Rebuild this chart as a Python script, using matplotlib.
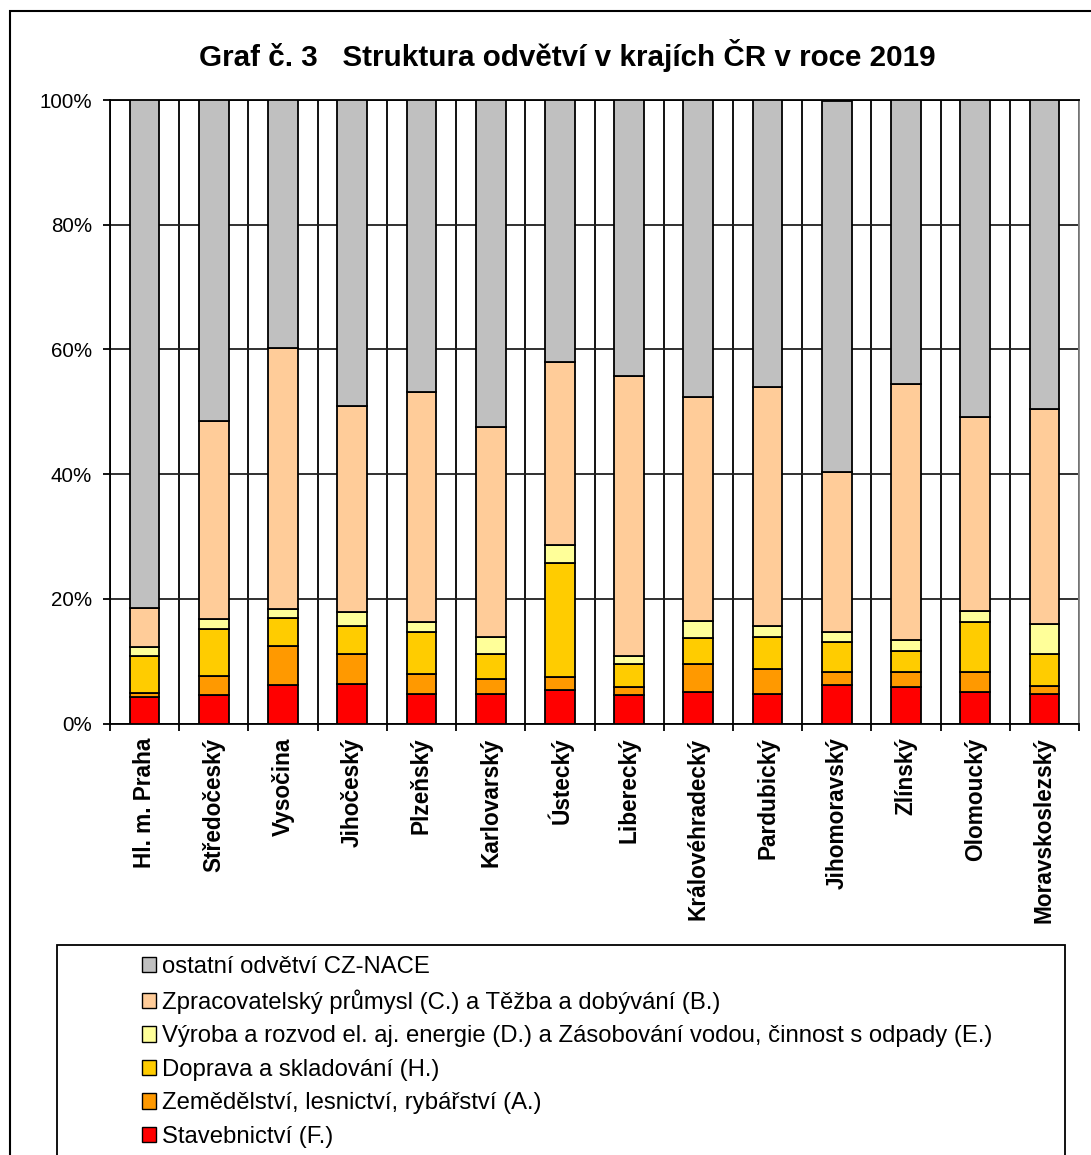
import numpy as np
import matplotlib.pyplot as plt
from matplotlib.patches import Patch, Rectangle

plt.switch_backend("Agg")
plt.rcParams["font.family"] = ["Liberation Sans", "DejaVu Sans"]

regions = [
    "Hl. m. Praha", "Středočeský", "Vysočina", "Jihočeský", "Plzeňský",
    "Karlovarský", "Ústecký", "Liberecký", "Královéhradecký", "Pardubický",
    "Jihomoravský", "Zlínský", "Olomoucký", "Moravskoslezský",
]

# shares in % (bottom -> top)
stavebnictvi = [4.3, 4.5, 6.1, 6.4, 4.8, 4.8, 5.3, 4.5, 5.1, 4.8, 6.1, 5.8, 5.1, 4.8]
zemedelstvi = [0.6, 3.1, 6.4, 4.8, 3.1, 2.3, 2.1, 1.3, 4.4, 3.9, 2.2, 2.5, 3.2, 1.2]
doprava = [6.0, 7.5, 4.4, 4.4, 6.8, 4.1, 18.3, 3.8, 4.2, 5.1, 4.8, 3.3, 8.0, 5.1]
energie = [1.3, 1.6, 1.4, 2.3, 1.6, 2.6, 2.9, 1.3, 2.7, 1.9, 1.5, 1.8, 1.7, 4.9]
zpracovatelsky = [6.4, 31.8, 42.0, 33.1, 36.9, 33.8, 29.4, 44.9, 35.9, 38.2, 25.8, 41.1, 31.1, 34.4]
ostatni = [81.4, 51.5, 39.7, 49.0, 46.8, 52.4, 42.0, 44.2, 47.7, 46.1, 59.5, 45.5, 50.9, 49.6]

series = [
    ("Stavebnictví (F.)", stavebnictvi, "#FF0000"),
    ("Zemědělství, lesnictví, rybářství (A.)", zemedelstvi, "#FF9900"),
    ("Doprava a skladování (H.)", doprava, "#FFCC00"),
    ("Výroba a rozvod el. aj. energie (D.) a Zásobování vodou, činnost s odpady (E.)", energie, "#FFFF99"),
    ("Zpracovatelský průmysl (C.) a Těžba a dobývání (B.)", zpracovatelsky, "#FFCC99"),
    ("ostatní odvětví CZ-NACE", ostatni, "#C0C0C0"),
]

W, H = 1091, 1155
fig = plt.figure(figsize=(W / 100, H / 100), dpi=100)
ax = fig.add_axes([110 / W, 1 - 723.5 / H, (1079 - 110) / W, (723.5 - 100) / H])

x = np.arange(len(regions))
bottom = np.zeros(len(regions))
for name, vals, col in series:
    v = np.array(vals, dtype=float)
    ax.bar(x, v, 0.43, bottom=bottom, color=col, edgecolor="black", linewidth=1.3, zorder=3)
    bottom += v

ax.set_xlim(-0.5, len(regions) - 0.5)
ax.set_ylim(0, 100)
ax.set_yticks(np.arange(0, 101, 20))
ax.set_yticklabels([f"{t}%" for t in range(0, 101, 20)], fontsize=14.8)
ax.set_xticks(x)
ax.set_xticklabels(regions, rotation=90, fontsize=16.3, fontweight="bold", va="top")
ax.set_xticks(np.arange(-0.5, len(regions)), minor=True)
ax.tick_params(axis="x", which="major", length=0, pad=10)
ax.tick_params(axis="x", which="minor", length=5, width=1.3, direction="out")
ax.tick_params(axis="y", length=5, width=1.3, direction="out", pad=8)

ax.grid(axis="y", color="#202020", linewidth=1.3, zorder=1)
ax.grid(axis="x", which="minor", color="black", linewidth=1.3, zorder=1)
for s in ["left", "bottom", "top"]:
    ax.spines[s].set_linewidth(1.3)
ax.spines["right"].set_color("#808080")
ax.spines["right"].set_linewidth(1.3)

fig.text(567 / W, 1 - 55 / H, "Graf č. 3   Struktura odvětví v krajích ČR v roce 2019",
         ha="center", va="center", fontsize=21.3, fontweight="bold")

# outer chart border (right/bottom cut by image edge)
fig.patches.append(Rectangle((10 / W, -0.05), 1.2, 1 - 11 / H + 0.05, transform=fig.transFigure,
                             fill=False, edgecolor="black", linewidth=1.5))
# legend box
fig.patches.append(Rectangle((57 / W, -0.05), (1065 - 57) / W, 1 - 945 / H + 0.05,
                             transform=fig.transFigure, fill=False, edgecolor="black", linewidth=1.3))

handles = [Patch(facecolor=col, edgecolor="black", linewidth=1.0, label=name)
           for name, vals, col in series[::-1]]
fig.legend(handles=handles, loc="upper left", bbox_to_anchor=(142 / W, 1 - 956 / H),
           frameon=False, fontsize=17.2, handlelength=0.6, handleheight=0.6,
           handletextpad=0.25, labelspacing=0.48, borderpad=0, borderaxespad=0)

fig.savefig("out.png", dpi=100)
